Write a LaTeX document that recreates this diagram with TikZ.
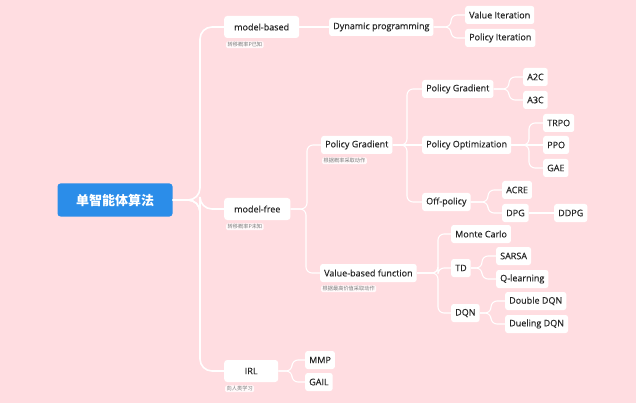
\documentclass[tikz,border=0pt]{standalone}
\usepackage{fontspec}
\setmainfont{Open Sans}[FakeBold=0.35]
\newfontfamily\cjk{Noto Sans CJK SC}
\usetikzlibrary{positioning}
\definecolor{bgpink}{HTML}{FFDDE1}
\definecolor{rootblue}{HTML}{2B8DE9}
\definecolor{notegray}{HTML}{7A7A7A}
\definecolor{labelink}{HTML}{262626}
\tikzset{
  root/.style={fill=rootblue, text=white, rounded corners=3pt, minimum width=115pt, minimum height=33pt, font=\cjk\bfseries\fontsize{13}{15}\selectfont},
  major/.style={fill=white, text=labelink, rounded corners=3pt, minimum height=22pt, minimum width=54pt, inner xsep=10pt, inner ysep=0pt, anchor=west, font=\fontsize{9}{10}\selectfont},
  topic/.style={fill=white, text=labelink, rounded corners=2.5pt, minimum height=18pt, inner xsep=4pt, inner ysep=0pt, anchor=west, font=\fontsize{9}{10}\selectfont},
  note/.style={fill=white, fill opacity=0.85, text opacity=1, text=notegray, rounded corners=1.5pt, inner xsep=1.5pt, inner ysep=1pt, font=\cjk\fontsize{5.2}{6}\selectfont},
  trunk/.style={draw=white, line width=1.6pt, rounded corners=12pt},
  branch/.style={draw=white, line width=1.1pt, rounded corners=6pt}
}
\begin{document}
\begin{tikzpicture}[x=1pt, y=-1pt]
  \fill[bgpink] (0,0) rectangle (636,403);
  \useasboundingbox (0,0) rectangle (636,403);

  \node[root] (root) at (115,200) {单智能体算法};

  \node[major] (mb) at (224,27) {model-based};
  \node[major] (mf) at (224,209) {model-free};
  \node[major] (irl) at (224,371) {IRL};
  \node[note, below right=3pt and 2pt of mb.south west] (mbnote) {转移概率P已知};
  \node[note, below right=3pt and 2pt of mf.south west] (mfnote) {转移概率P未知};
  \node[note, below right=3pt and 1pt of irl.south west] (irlnote) {向人类学习};

  \node[topic] (dp) at (329,27) {Dynamic programming};
  \node[topic] (vi) at (465,15) {Value Iteration};
  \node[topic] (pi) at (465,38) {Policy Iteration};

  \node[topic] (pg) at (321,145) {Policy Gradient};
  \node[topic] (vb) at (320,273) {Value-based function};
  \node[note, below right=3pt and 1pt of pg.south west] (pgnote) {根据概率采取动作};
  \node[note, below right=3pt and 1pt of vb.south west] (vbnote) {根据最高价值采取动作};

  \node[topic] (pgr) at (422,89) {Policy Gradient};
  \node[topic] (po) at (422,145) {Policy Optimization};
  \node[topic] (op) at (422,202) {Off-policy};
  \node[topic] (a2c) at (523,77) {A2C};
  \node[topic] (a3c) at (523,100) {A3C};
  \node[topic] (trpo) at (543,123) {TRPO};
  \node[topic] (ppo) at (543,145) {PPO};
  \node[topic] (gae) at (543,168) {GAE};
  \node[topic] (acre) at (502,190) {ACRE};
  \node[topic] (dpg) at (502,213) {DPG};
  \node[topic] (ddpg) at (554,213) {DDPG};

  \node[topic] (mc) at (451,234) {Monte Carlo};
  \node[topic] (td) at (451,268) {TD};
  \node[topic] (dqn) at (451,313) {DQN};
  \node[topic] (sarsa) at (496,256) {SARSA};
  \node[topic] (ql) at (496,279) {Q-learning};
  \node[topic] (ddqn) at (505,301) {Double DQN};
  \node[topic] (duel) at (505,324) {Dueling DQN};

  \node[topic] (mmp) at (305,360) {MMP};
  \node[topic] (gail) at (305,382) {GAIL};

  \draw[trunk] (root.east) -| ([xshift=-24pt]mb.west) -- (mb.west);
  \draw[trunk] (root.east) -| ([xshift=-24pt]mf.west) -- (mf.west);
  \draw[trunk] (root.east) -| ([xshift=-24pt]irl.west) -- (irl.west);

  \draw[branch] (mb.east) -- (dp.west);
  \draw[branch] (dp.east) -| ([xshift=-14pt]vi.west) -- (vi.west);
  \draw[branch] (dp.east) -| ([xshift=-14pt]pi.west) -- (pi.west);

  \draw[branch] (mf.east) -| ([xshift=-14pt]pg.west) -- (pg.west);
  \draw[branch] (mf.east) -| ([xshift=-14pt]vb.west) -- (vb.west);

  \draw[branch] (pg.east) -| ([xshift=-15pt]pgr.west) -- (pgr.west);
  \draw[branch] (pg.east) -- (po.west);
  \draw[branch] (pg.east) -| ([xshift=-15pt]op.west) -- (op.west);
  \draw[branch] (pgr.east) -| ([xshift=-14pt]a2c.west) -- (a2c.west);
  \draw[branch] (pgr.east) -| ([xshift=-14pt]a3c.west) -- (a3c.west);
  \draw[branch] (po.east) -| ([xshift=-14pt]trpo.west) -- (trpo.west);
  \draw[branch] (po.east) -- (ppo.west);
  \draw[branch] (po.east) -| ([xshift=-14pt]gae.west) -- (gae.west);
  \draw[branch] (op.east) -| ([xshift=-14pt]acre.west) -- (acre.west);
  \draw[branch] (op.east) -| ([xshift=-14pt]dpg.west) -- (dpg.west);
  \draw[branch] (dpg.east) -- (ddpg.west);

  \draw[branch] (vb.east) -| ([xshift=-13pt]mc.west) -- (mc.west);
  \draw[branch] (vb.east) -| ([xshift=-13pt]td.west) -- (td.west);
  \draw[branch] (vb.east) -| ([xshift=-13pt]dqn.west) -- (dqn.west);
  \draw[branch] (td.east) -| ([xshift=-14pt]sarsa.west) -- (sarsa.west);
  \draw[branch] (td.east) -| ([xshift=-14pt]ql.west) -- (ql.west);
  \draw[branch] (dqn.east) -| ([xshift=-14pt]ddqn.west) -- (ddqn.west);
  \draw[branch] (dqn.east) -| ([xshift=-14pt]duel.west) -- (duel.west);

  \draw[branch] (irl.east) -| ([xshift=-13pt]mmp.west) -- (mmp.west);
  \draw[branch] (irl.east) -| ([xshift=-13pt]gail.west) -- (gail.west);
\end{tikzpicture}
\end{document}
